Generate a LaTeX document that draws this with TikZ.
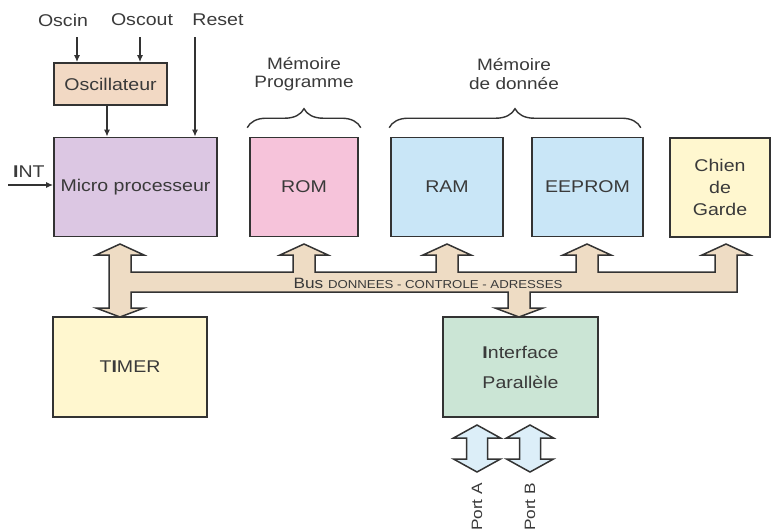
\documentclass[tikz,border=0pt]{standalone}
\usepackage{fontspec}
\setmainfont{Liberation Sans}[FakeStretch=1.15]
\usetikzlibrary{arrows.meta,decorations.pathreplacing}
\definecolor{bordc}{HTML}{333333}
\definecolor{txtc}{HTML}{3A3A3A}
\definecolor{oscc}{HTML}{F2D9C4}
\definecolor{microc}{HTML}{DCC7E3}
\definecolor{romc}{HTML}{F6C3DA}
\definecolor{ramc}{HTML}{C9E6F7}
\definecolor{yelc}{HTML}{FFF7CF}
\definecolor{ifc}{HTML}{CBE5D5}
\definecolor{busc}{HTML}{EEDCC4}
\definecolor{portc}{HTML}{DCEEF8}
\begin{document}
\begin{tikzpicture}[x=1pt,y=-1pt,
  font=\fontsize{17}{20}\selectfont,
  box/.style={draw=bordc, line width=1.6pt, inner sep=0pt, align=center, text=txtc, minimum height=99pt},
  lbl/.style={text=txtc, inner sep=0pt, align=center},
  arr/.style={draw=bordc, line width=1.4pt, -{Latex[length=7pt,width=6pt]}},
  bigarr/.style={draw=bordc, line width=1.5pt, line join=miter},
  brc/.style={draw=bordc, line width=1.4pt, decorate, decoration={brace, amplitude=19pt, aspect=0.5}}]
\useasboundingbox (0,0) rectangle (775,531);

% boxes
\node[box, fill=oscc, minimum width=113pt, minimum height=42pt] (osc) at (110.5,84) {Oscillateur};
\node[box, fill=microc, minimum width=163pt] (micro) at (135.5,187) {Micro processeur};
\node[box, fill=romc, minimum width=108pt] (rom) at (304,187) {ROM};
\node[box, fill=ramc, minimum width=112pt] (ram) at (447,187) {RAM};
\node[box, fill=ramc, minimum width=111pt] (eeprom) at (587.5,187) {EEPROM};
\node[box, fill=yelc, minimum width=100pt, font=\fontsize{17}{22}\selectfont] (chien) at (720,187.5) {Chien\\de\\Garde};
\node[box, fill=yelc, minimum width=154pt, minimum height=100pt] (timer) at (130,367) {T{\bfseries I}MER};
\node[box, fill=ifc, minimum width=155pt, minimum height=100pt, font=\fontsize{17}{30}\selectfont] (iface) at (520.5,367) {{\bfseries I}nterface\\Parallèle};

% top labels
\node[lbl] (oscin) at (63,20) {Oscin};
\node[lbl] (oscout) at (142,20) {Oscout};
\node[lbl] (reset) at (218,20) {Reset};
\node[lbl, anchor=south west] (int) at (13,178) {{\bfseries I}NT};
\node[lbl, font=\fontsize{16.5}{18}\selectfont] (mprog) at (304,74) {Mémoire\\Programme};
\node[lbl, font=\fontsize{16.5}{18}\selectfont] (mdata) at (514,74) {Mémoire\\de donnée};

% small arrows
\draw[arr] (77,37) -- (osc.north -| 77,0);
\draw[arr] (140,37) -- (osc.north -| 140,0);
\draw[arr] (osc.south -| 107,0) -- (micro.north -| 107,0);
\draw[arr] (195,37) -- (micro.north -| 195,0);
\draw[arr] (8,185) -- (micro.west |- 0,185);

% braces
\draw[brc] (rom.north west) ++(-2,-9) -- ([shift={(2,-9)}]rom.north east);
\draw[brc] (ram.north west) ++(-1,-9) -- ([shift={(-3,-9)}]eeprom.north east);

% bus
\path[bigarr, fill=busc]
  (120,244) -- (144,255) -- (131,255) -- (131,272)
  -- (293,272) -- (293,255) -- (280,255) -- (304,244) -- (328,255) -- (315,255) -- (315,272)
  -- (436,272) -- (436,255) -- (423,255) -- (447,244) -- (471,255) -- (458,255) -- (458,272)
  -- (576,272) -- (576,255) -- (563,255) -- (587,244) -- (611,255) -- (598,255) -- (598,272)
  -- (715,272) -- (715,255) -- (702,255) -- (726,244) -- (750,255) -- (737,255) -- (737,292)
  -- (530,292) -- (530,308) -- (543,308) -- (519,317) -- (495,308) -- (508,308) -- (508,292)
  -- (131,292) -- (131,308) -- (144,308) -- (120,317) -- (96,308) -- (109,308)
  -- (109,255) -- (96,255) -- cycle;
\node[lbl, anchor=base] (bus) at (428,288) {\fontsize{15}{15}\selectfont Bus \fontsize{11.5}{12}\selectfont DONNEES - CONTROLE - ADRESSES};

% ports
\foreach \cx/\nm in {477/pa,530/pb}{
  \path[bigarr, fill=portc]
    (\cx,425) -- (\cx+23.5,438) -- (\cx+10.5,438) -- (\cx+10.5,459) -- (\cx+23.5,459)
    -- (\cx,472) -- (\cx-23.5,459) -- (\cx-10.5,459) -- (\cx-10.5,438) -- (\cx-23.5,438) -- cycle;
}
\node[lbl, rotate=90, font=\fontsize{15}{15}\selectfont] (porta) at (477,507) {Port A};
\node[lbl, rotate=90, font=\fontsize{15}{15}\selectfont] (portb) at (530,507) {Port B};
\end{tikzpicture}
\end{document}
